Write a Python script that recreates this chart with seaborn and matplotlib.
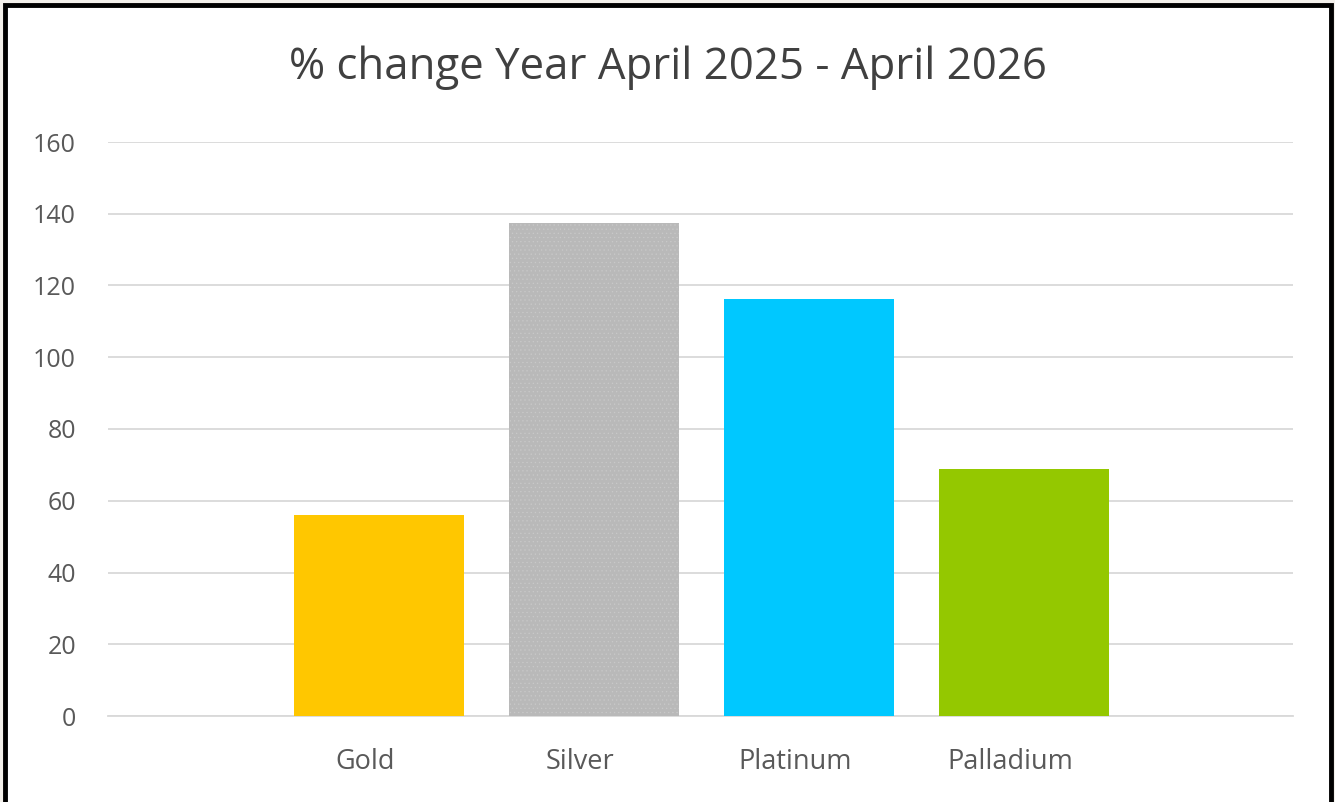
import matplotlib
matplotlib.use("Agg")
import matplotlib.pyplot as plt
import matplotlib.transforms as mtransforms
import seaborn as sns
import pandas as pd
from matplotlib.patches import Rectangle

categories = ["Gold", "Silver", "Platinum", "Palladium"]
values = [56, 137.5, 116.2, 68.8]
colors = ["#FFC700", "#B9B9B9", "#00C8FF", "#94C800"]
yticks = [0, 20, 40, 60, 80, 100, 120, 140, 160]
title = "% change Year April 2025 - April 2026"

sns.set_theme(style="white")
plt.rcParams['font.family'] = ['Open Sans', 'DejaVu Sans']
plt.rcParams['hatch.linewidth'] = 0.4

fig = plt.figure(figsize=(13.35, 8.02), dpi=100)
fig.patch.set_facecolor("#F3F0EB")
# white chart area with black border
border = Rectangle((5/1335, -0.01), (1331-5)/1335, 1 - 5/802 + 0.01,
                   transform=fig.transFigure, facecolor="white",
                   edgecolor="black", linewidth=3.5, zorder=-5)
fig.patches.append(border)

ax = fig.add_axes([108/1335, 1-716/802, (1293-108)/1335, (716-142)/802])
ax.set_facecolor("none")
ax.set_zorder(2)

df = pd.DataFrame({"metal": categories, "pct": values})
sns.barplot(data=df, x="metal", y="pct", hue="metal", palette=colors,
            legend=False, width=0.79, ax=ax, saturation=1, zorder=3)

# silver texture
for p in ax.patches:
    p.set_linewidth(0)
ax.patches[1].set_hatch("....")
ax.patches[1].set_edgecolor("#C9C9C9")

ax.set_xlim(-1.26, 4.25)
ax.set_ylim(0, 160)
ax.set_yticks(yticks)
ax.set_yticklabels([str(t) for t in yticks])
ax.yaxis.grid(True, color="#D9D9D9", linewidth=1.3, zorder=0)
ax.set_axisbelow(True)
for s in ["top", "right", "left"]:
    ax.spines[s].set_visible(False)
ax.spines["bottom"].set_color("#D9D9D9")
ax.spines["bottom"].set_linewidth(1.3)
ax.set_xlabel("")
ax.set_ylabel("")
ax.tick_params(axis="y", length=0, pad=23, labelsize=18, labelcolor="#595959")
ax.tick_params(axis="x", length=0, pad=23, labelsize=19.5, labelcolor="#595959")

shift = mtransforms.ScaledTranslation(-14/100, 0, fig.dpi_scale_trans)
for lbl in ax.get_xticklabels():
    lbl.set_transform(lbl.get_transform() + shift)

fig.text(0.5, 1-68/802, title, ha="center", va="center", fontsize=31.5,
         color="#404040")

fig.savefig("out.png", dpi=100, facecolor=fig.get_facecolor())
